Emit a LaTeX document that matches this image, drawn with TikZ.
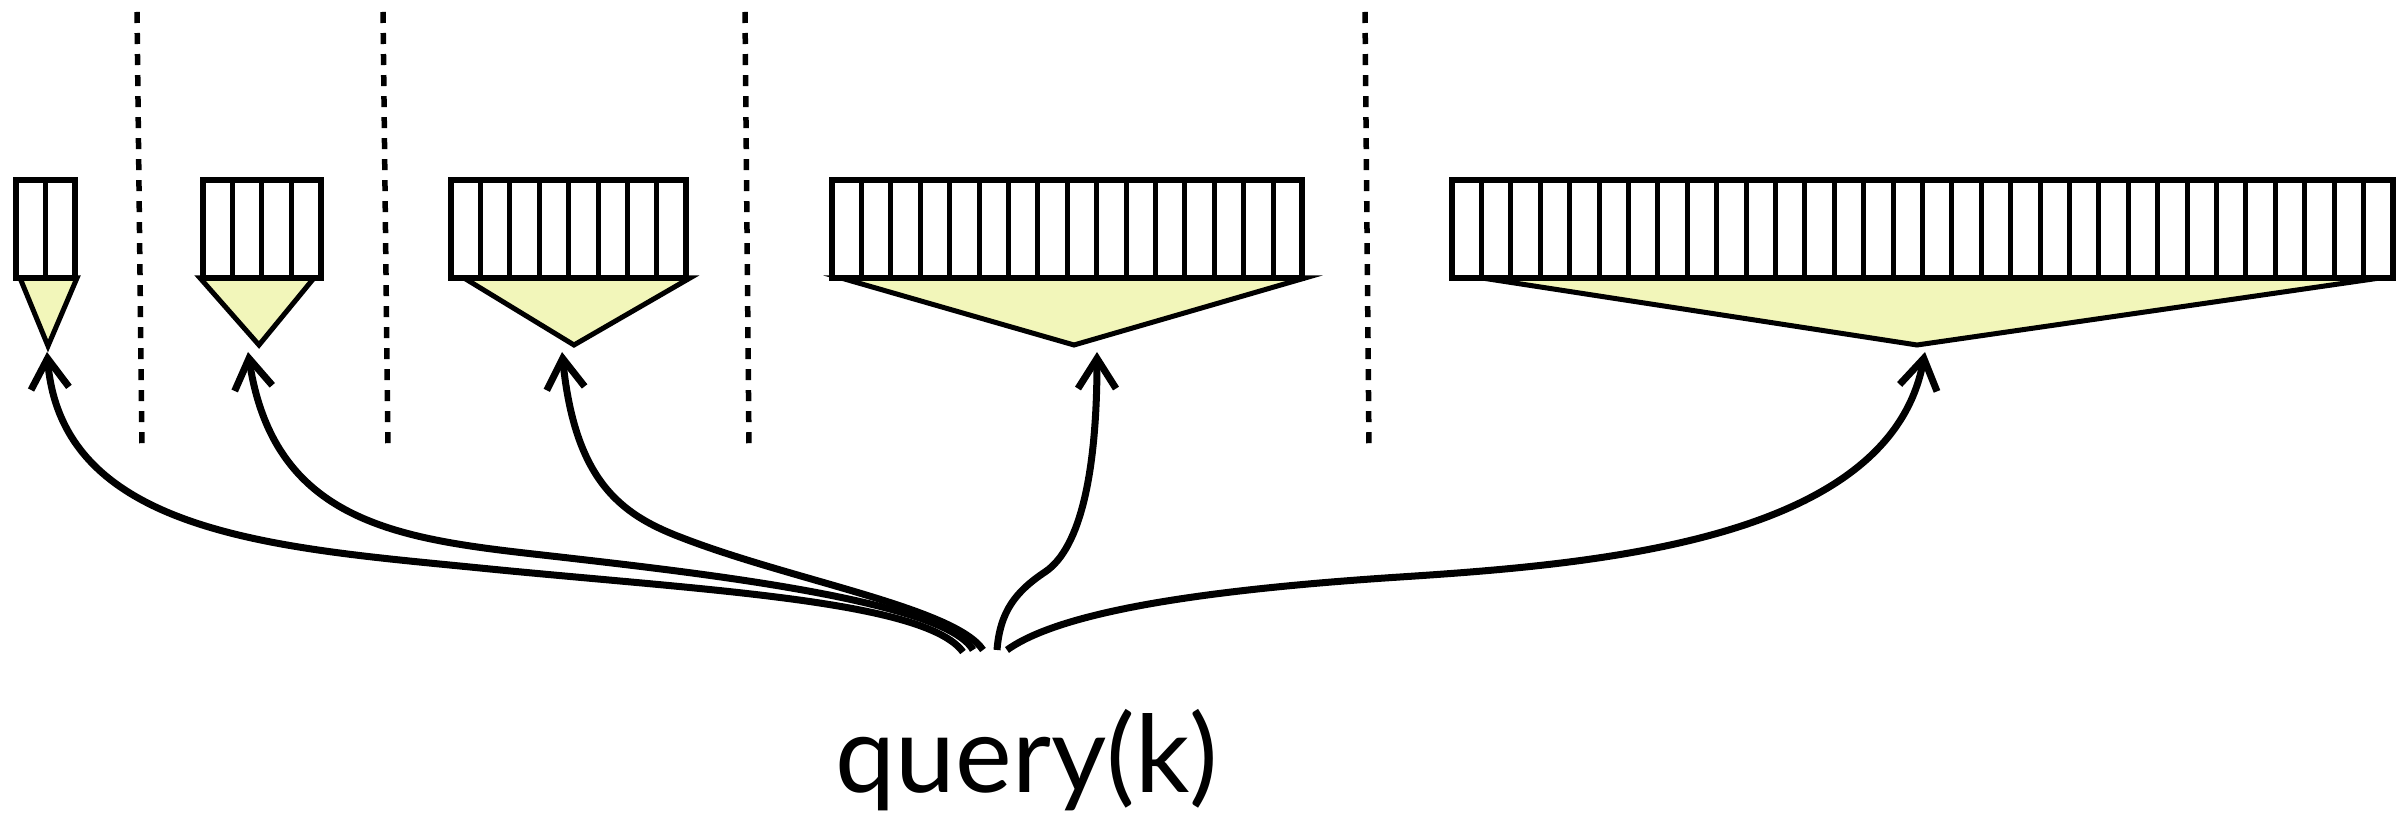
\documentclass[tikz,border=0pt]{standalone}
\usepackage{fontspec}
\setmainfont{Lato}
\usetikzlibrary{arrows.meta}
\definecolor{levelfill}{RGB}{242,246,186}
\tikzset{cell/.style={draw=black, line width=0.05cm},
	levelbox/.style={draw=black, line width=0.06cm},
	funnel/.style={draw=black, fill=levelfill, line width=0.05cm, line join=miter},
	sep/.style={draw=black, line width=0.055cm, dash pattern=on 0.11cm off 0.1cm},
	probe/.style={draw=black, line width=0.07cm, -{Straight Barb[length=0.3cm,width=0.38cm]}}}

\begin{document}
\begin{tikzpicture}[x=0.01cm, y=-0.01cm]
		\useasboundingbox (0,0) rectangle (2405,819);

		% separators between the levels
		\draw[sep] (137,12) -- (142,448);
		\draw[sep] (383,12) -- (388,448);
		\draw[sep] (745,12) -- (749,448);
		\draw[sep] (1365,12) -- (1369,448);

		% funnels under each level
		\draw[funnel] (20,278) -- (77,278) -- (48,346) -- cycle;
		\draw[funnel] (200,278) -- (314,278) -- (259,345) -- cycle;
		\draw[funnel] (464,278) -- (690,278) -- (574,345) -- cycle;
		\draw[funnel] (841,278) -- (1305,278) -- (1074,345) -- cycle;
		\draw[funnel] (1482,278) -- (2380,278) -- (1917,345) -- cycle;

		% levels: left edge / number of cells
		\foreach \x/\n in {16/2, 203/4, 451/8, 832/16, 1452/32} {
			\foreach \i in {1,...,\n}
				\draw[cell] ({\x+(\i-1)*29.4},180) rectangle ++(29.4,98);
			\draw[levelbox] (\x,180) rectangle ++({\n*29.4},98);
		}

		\node[font=\fontsize{30.5pt}{36pt}\selectfont, anchor=base] (q) at (1027,793) {query(k)};

		\coordinate (s1) at (963,652);
		\coordinate (s2) at (973,650);
		\coordinate (s3) at (983,650);
		\coordinate (s4) at (997,650);
		\coordinate (s5) at (1007,650);
		\coordinate (t1) at (47,352);
		\coordinate (t2) at (248,352);
		\coordinate (t3) at (562,352);
		\coordinate (t4) at (1097,352);
		\coordinate (t5) at (1925,352);

		\draw[probe] (s1) .. controls (925,600) and (700,590) .. (480,568) .. controls (280,548) and (62,535) .. (t1);
		\draw[probe] (s2) .. controls (945,600) and (690,572) .. (560,557) .. controls (410,540) and (275,530) .. (t2);
		\draw[probe] (s3) .. controls (955,608) and (790,580) .. (680,537) .. controls (620,514) and (575,480) .. (t3);
		\draw[probe] (s4) .. controls (1000,612) and (1015,592) .. (1045,572) .. controls (1081,548) and (1097,470) .. (t4);
		\draw[probe] (s5) .. controls (1060,612) and (1200,590) .. (1400,577) .. controls (1600,564) and (1890,540) .. (t5);
	\end{tikzpicture}
\end{document}
